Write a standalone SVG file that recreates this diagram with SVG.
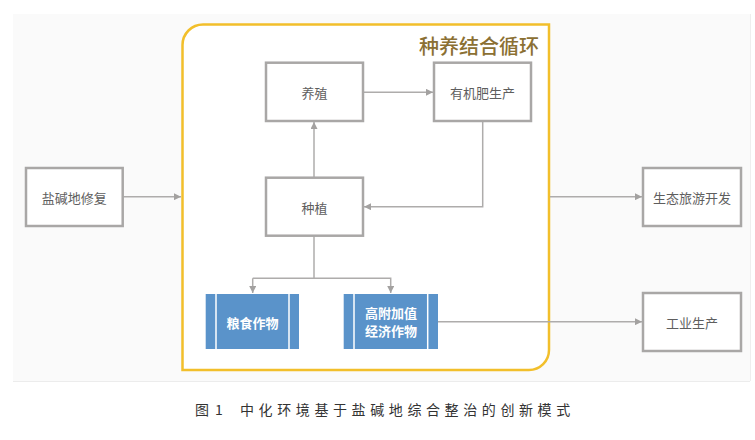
<svg xmlns="http://www.w3.org/2000/svg" width="755" height="440" viewBox="0 0 755 440">
<style>
.box{fill:#ffffff;stroke:#a9a7a6;stroke-width:2.5}
.lbl{font-family:"Noto Sans CJK SC","Noto Sans",sans-serif;font-size:13px;fill:#5e5e5e;text-anchor:middle;dominant-baseline:central}
.blue{fill:#5a93ca}
.bar{stroke:#ffffff;stroke-width:1.5}
.wl{font-family:"Noto Sans CJK SC","Noto Sans",sans-serif;font-size:13px;font-weight:bold;fill:#ffffff;text-anchor:middle;dominant-baseline:central}
.con{fill:none;stroke:#aeacab;stroke-width:1.5}
.cap{font-family:"Noto Sans CJK SC","Noto Sans",sans-serif;font-size:14px;fill:#333333;dominant-baseline:central}
</style>
<defs>
<marker id="ah" viewBox="0 0 10 10" refX="10" refY="5" markerWidth="7" markerHeight="7" orient="auto" markerUnits="userSpaceOnUse">
<path d="M0,0 L10,5 L0,10 z" fill="#a3a1a0"/>
</marker>
</defs>
<rect x="0" y="0" width="755" height="440" fill="#ffffff"/>
<rect x="13" y="14" width="737" height="367" fill="#fafafa"/>
<line x1="13" y1="381.5" x2="750" y2="381.5" stroke="#ececec" stroke-width="1"/>
<line x1="750.5" y1="14" x2="750.5" y2="381" stroke="#eeeeee" stroke-width="1"/>

<g id="container">
<path d="M203,24.5 H549 V350 A20,20 0 0 1 529,370 H182.5 V45 A20.5,20.5 0 0 1 203,24.5 Z" fill="#ffffff" stroke="#f2bf2b" stroke-width="2.5"/>
<text x="539" y="45" text-anchor="end" dominant-baseline="central" font-family="'Noto Sans CJK SC','Noto Sans',sans-serif" font-size="20" font-weight="500" fill="#8b7033">种养结合循环</text>
</g>

<g id="connectors">
<line class="con" x1="122.7" y1="196.7" x2="181" y2="196.7" marker-end="url(#ah)"/>
<line class="con" x1="550" y1="196.7" x2="642" y2="196.7" marker-end="url(#ah)"/>
<line class="con" x1="363" y1="92.3" x2="433" y2="92.3" marker-end="url(#ah)"/>
<polyline class="con" points="482.7,121 482.7,206.7 364,206.7" marker-end="url(#ah)"/>
<line class="con" x1="314" y1="177.7" x2="314" y2="122" marker-end="url(#ah)"/>
<line class="con" x1="314" y1="235.7" x2="314" y2="278.3"/>
<polyline class="con" points="252.7,278.3 390.7,278.3 390.7,293" marker-end="url(#ah)"/>
<line class="con" x1="252.7" y1="278.3" x2="252.7" y2="293" marker-end="url(#ah)"/>
<line class="con" x1="438" y1="321.7" x2="642" y2="321.7" marker-end="url(#ah)"/>
</g>

<g id="n-yanjiandi">
<rect class="box" x="26" y="168" width="96.7" height="58"/>
<text class="lbl" x="74.3" y="197">盐碱地修复</text>
</g>
<g id="n-yangzhi">
<rect class="box" x="266" y="62.7" width="97" height="58.3"/>
<text class="lbl" x="314.5" y="92">养殖</text>
</g>
<g id="n-youjifei">
<rect class="box" x="434" y="62.7" width="97" height="58.3"/>
<text class="lbl" x="482.5" y="92">有机肥生产</text>
</g>
<g id="n-zhongzhi">
<rect class="box" x="266" y="177.7" width="97" height="58"/>
<text class="lbl" x="314.5" y="207">种植</text>
</g>
<g id="n-liangshi">
<rect class="blue" x="205.7" y="294" width="93.3" height="55"/>
<line class="bar" x1="216" y1="294" x2="216" y2="349"/>
<line class="bar" x1="289" y1="294" x2="289" y2="349"/>
<text class="wl" x="252.5" y="322">粮食作物</text>
</g>
<g id="n-gaofujia">
<rect class="blue" x="343.7" y="294" width="94.3" height="55"/>
<line class="bar" x1="354" y1="294" x2="354" y2="349"/>
<line class="bar" x1="427.7" y1="294" x2="427.7" y2="349"/>
<text class="wl" x="391" y="312" font-size="12">高附加值</text>
<text class="wl" x="391" y="330" font-size="12">经济作物</text>
</g>
<g id="n-shengtai">
<rect class="box" x="643" y="168" width="98" height="58"/>
<text class="lbl" x="692" y="197">生态旅游开发</text>
</g>
<g id="n-gongye">
<rect class="box" x="643" y="293" width="98" height="58"/>
<text class="lbl" x="692" y="322">工业生产</text>
</g>

<g id="caption">
<text class="cap" x="195" y="409">图</text>
<text class="cap" x="215" y="409">1</text>
<text class="cap" x="240" y="409" letter-spacing="4.6">中化环境基于盐碱地综合整治的创新模式</text>
</g>
</svg>
